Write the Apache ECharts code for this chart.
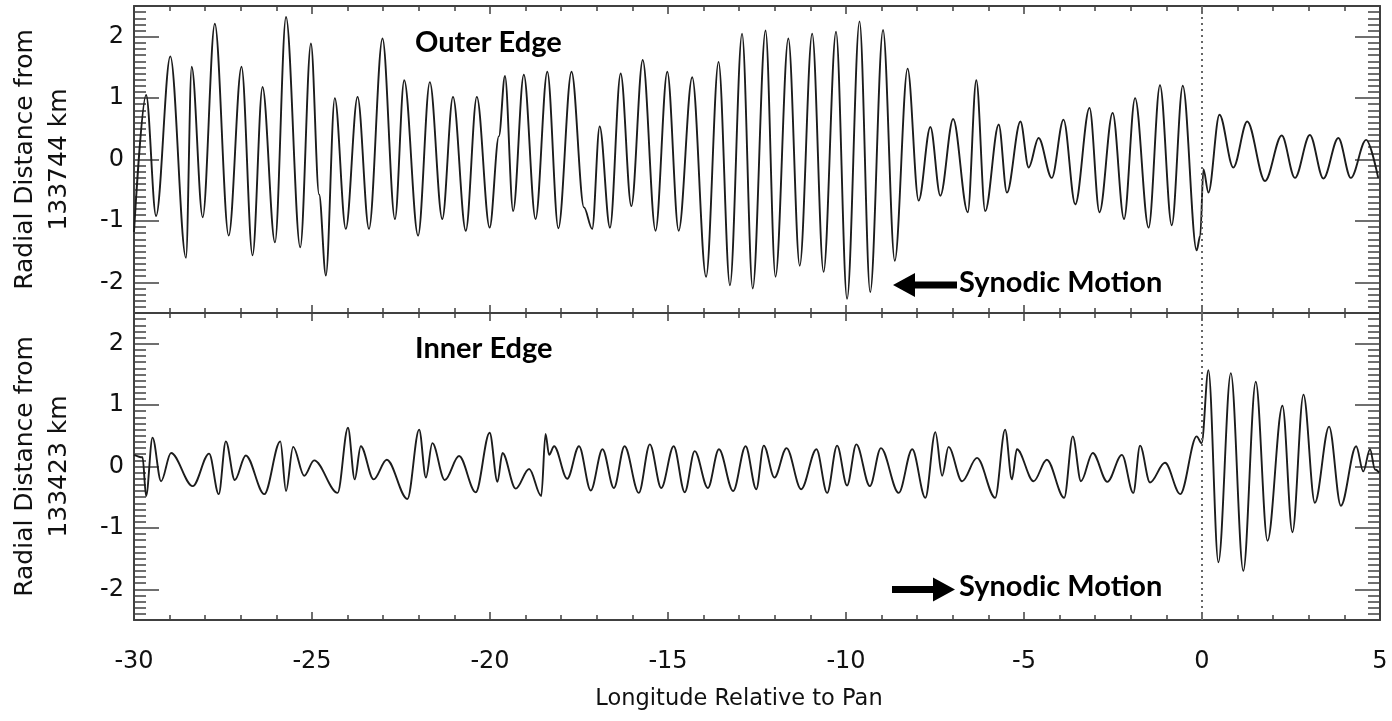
<!DOCTYPE html>
<html>
<head>
<meta charset="utf-8">
<script src="https://cdn.jsdelivr.net/npm/echarts@6/dist/echarts.min.js"></script>
<style>
  html, body { margin: 0; padding: 0; background: #ffffff; }
  #chart { width: 1392px; height: 721px; }
</style>
</head>
<body>
<div id="chart"></div>
<script>
// Outer edge radial excursions (km) vs longitude relative to Pan (deg): turning points of the trace
const outerLon = [-30.0, -29.66, -29.38, -28.98, -28.54, -28.38, -28.07, -27.73, -27.34, -26.98,
  -26.67, -26.39, -26.04, -25.73, -25.33, -25.03, -24.80, -24.61, -24.36, -24.05,
  -23.72, -23.40, -23.02, -22.67, -22.41, -22.02, -21.69, -21.34, -21.04, -20.68,
  -20.37, -20.01, -19.75, -19.58, -19.35, -19.05, -18.72, -18.39, -18.08, -17.71,
  -17.36, -17.13, -16.92, -16.63, -16.33, -16.03, -15.71, -15.35, -15.02, -14.70,
  -14.32, -13.93, -13.58, -13.26, -12.92, -12.62, -12.26, -11.98, -11.62, -11.30,
  -10.95, -10.63, -10.28, -9.97, -9.62, -9.32, -8.96, -8.63, -8.27, -7.96,
  -7.63, -7.35, -6.99, -6.58, -6.34, -6.09, -5.71, -5.48, -5.10, -4.87,
  -4.59, -4.22, -3.89, -3.56, -3.16, -2.88, -2.51, -2.19, -1.88, -1.50,
  -1.18, -0.85, -0.54, -0.15, -0.05, 0.04, 0.18, 0.49, 0.88, 1.27,
  1.77, 2.24, 2.61, 3.03, 3.41, 3.83, 4.18, 4.61, 4.95];
const outerRad = [-1.18, 1.05, -0.92, 1.68, -1.60, 1.51, -0.94, 2.21, -1.24, 1.51,
  -1.56, 1.18, -1.35, 2.32, -1.43, 1.89, -0.57, -1.89, 1.00, -1.13,
  1.02, -1.13, 1.97, -0.97, 1.29, -1.24, 1.26, -0.97, 1.02, -1.16,
  1.02, -1.11, 0.38, 1.36, -0.84, 1.38, -0.97, 1.43, -1.12, 1.43,
  -0.78, -1.13, 0.54, -1.11, 1.40, -0.76, 1.62, -1.16, 1.43, -1.16,
  1.34, -1.91, 1.59, -2.05, 2.05, -2.10, 2.10, -1.91, 1.97, -1.73,
  2.05, -1.83, 2.08, -2.27, 2.25, -2.16, 2.11, -1.65, 1.48, -0.67,
  0.53, -0.59, 0.66, -0.86, 1.29, -0.84, 0.57, -0.54, 0.62, -0.13,
  0.35, -0.30, 0.65, -0.73, 0.84, -0.86, 0.76, -0.97, 1.00, -1.11,
  1.21, -1.07, 1.20, -1.48, -1.24, -0.16, -0.54, 0.73, -0.13, 0.62,
  -0.35, 0.39, -0.30, 0.40, -0.31, 0.35, -0.30, 0.32, -0.30];

// Inner edge radial excursions (km) vs longitude relative to Pan (deg)
const innerLon = [-30.00, -29.76, -29.66, -29.48, -29.24, -28.96, -28.35, -27.89, -27.62, -27.42,
  -27.17, -26.86, -26.34, -25.89, -25.73, -25.53, -25.22, -24.94, -24.28, -23.99,
  -23.80, -23.63, -23.27, -22.90, -22.32, -21.99, -21.80, -21.62, -21.27, -20.87,
  -20.40, -20.01, -19.79, -19.65, -19.28, -18.90, -18.56, -18.44, -18.34, -18.20,
  -17.83, -17.50, -17.17, -16.84, -16.52, -16.22, -15.82, -15.51, -15.19, -14.84,
  -14.53, -14.25, -13.88, -13.57, -13.17, -12.82, -12.52, -12.31, -12.01, -11.67,
  -11.26, -10.83, -10.53, -10.25, -9.97, -9.71, -9.33, -9.02, -8.52, -8.14,
  -7.77, -7.49, -7.30, -7.12, -6.74, -6.32, -5.81, -5.53, -5.34, -5.20,
  -4.73, -4.36, -3.87, -3.63, -3.40, -3.07, -2.66, -2.25, -1.93, -1.74,
  -1.46, -1.04, -0.61, -0.15, -0.01, 0.18, 0.46, 0.81, 1.16, 1.51,
  1.84, 2.26, 2.54, 2.85, 3.17, 3.57, 3.90, 4.33, 4.53, 4.72,
  4.86, 4.98];
const innerRad = [0.19, 0.15, -0.48, 0.47, -0.24, 0.22, -0.32, 0.21, -0.45, 0.41,
  -0.22, 0.18, -0.45, 0.41, -0.40, 0.32, -0.15, 0.10, -0.43, 0.63,
  -0.21, 0.33, -0.21, 0.11, -0.53, 0.60, -0.18, 0.38, -0.22, 0.17,
  -0.42, 0.55, -0.25, 0.22, -0.36, -0.04, -0.48, 0.53, 0.19, 0.33,
  -0.20, 0.33, -0.39, 0.28, -0.35, 0.33, -0.43, 0.36, -0.35, 0.33,
  -0.42, 0.25, -0.35, 0.28, -0.40, 0.33, -0.37, 0.34, -0.18, 0.30,
  -0.37, 0.28, -0.43, 0.34, -0.31, 0.36, -0.32, 0.30, -0.43, 0.28,
  -0.51, 0.56, -0.15, 0.32, -0.24, 0.14, -0.51, 0.60, -0.21, 0.28,
  -0.24, 0.11, -0.51, 0.49, -0.24, 0.22, -0.25, 0.19, -0.43, 0.34,
  -0.26, 0.06, -0.45, 0.49, 0.38, 1.57, -1.56, 1.52, -1.70, 1.38,
  -1.21, 0.99, -1.07, 1.17, -0.59, 0.65, -0.64, 0.33, -0.08, 0.28,
  -0.05, -0.10];

const radTicks = [-2, -1, 0, 1, 2];
const panLon = 0;

const pairs = (xs, ys) => xs.map((x, i) => [x, ys[i]]);

const FRAME = '#404040';
const TEXT = '#111111';
const SANS = '"DejaVu Sans", "Liberation Sans", sans-serif';
const BOLD = 'bold 29px Lato, "Open Sans", sans-serif';

function lonAxis(g, pos, withLabels) {
  const ax = {
    type: 'value', gridIndex: g, position: pos, min: -30, max: 5, interval: 5,
    axisLine: { show: true, onZero: false, lineStyle: { color: FRAME, width: 2 } },
    axisTick: { show: true, inside: true, length: 8, lineStyle: { color: FRAME, width: 1.5 } },
    minorTick: { show: true, splitNumber: 5, length: 5, lineStyle: { color: FRAME, width: 1.5 } },
    splitLine: { show: false },
    axisLabel: { show: withLabels, margin: 30, fontSize: 24, color: TEXT, fontFamily: SANS }
  };
  if (withLabels) {
    ax.name = 'Longitude Relative to Pan';
    ax.nameLocation = 'middle';
    ax.nameGap = 68;
    ax.nameTextStyle = { fontSize: 22.5, color: TEXT, fontFamily: SANS, padding: [0, 36, 0, 0] };
  }
  return ax;
}

function radMinorAxis(g, pos) {
  return {
    type: 'value', gridIndex: g, position: pos, min: -2.5, max: 2.5, interval: 0.1,
    axisLine: { show: true, onZero: false, lineStyle: { color: FRAME, width: 2 } },
    axisTick: { show: true, inside: true, length: 12, lineStyle: { color: FRAME, width: 1.5 } },
    axisLabel: { show: false },
    splitLine: { show: false }
  };
}

function radMajorAxis(g, pos, name) {
  const ax = {
    type: 'value', gridIndex: g, position: pos, min: -2.5, max: 2.5, interval: 0.5,
    axisLine: { show: false, onZero: false },
    axisTick: { show: true, inside: true, length: 25, customValues: radTicks,
      lineStyle: { color: FRAME, width: 1.5 } },
    axisLabel: { show: pos === 'left', customValues: radTicks, margin: 10,
      fontSize: 24, color: TEXT, fontFamily: SANS },
    splitLine: { show: false }
  };
  if (name) {
    ax.name = name;
    ax.nameLocation = 'middle';
    ax.nameGap = 58;
    ax.nameRotate = 90;
    ax.nameTextStyle = { fontSize: 25, lineHeight: 34, color: TEXT, fontFamily: SANS, align: 'center' };
  }
  return ax;
}

const zeroMark = {
  silent: true, symbol: 'none', label: { show: false },
  lineStyle: { type: [2, 4], color: '#666666', width: 2 },
  data: [{ xAxis: panLon }]
};

const traceStyle = { color: '#1c1c1c', width: 1.9 };

const chart = echarts.init(document.getElementById('chart'), null, { renderer: 'canvas' });
chart.setOption({
  animation: false,
  backgroundColor: '#ffffff',
  grid: [
    { left: 133, right: 12, top: 6, height: 307 },
    { left: 133, right: 12, top: 313, height: 307 }
  ],
  xAxis: [
    lonAxis(0, 'bottom', false), lonAxis(0, 'top', false),
    lonAxis(1, 'bottom', true), lonAxis(1, 'top', false)
  ],
  yAxis: [
    radMinorAxis(0, 'left'), radMajorAxis(0, 'left', 'Radial Distance from\n133744 km'),
    radMinorAxis(0, 'right'), radMajorAxis(0, 'right'),
    radMinorAxis(1, 'left'), radMajorAxis(1, 'left', 'Radial Distance from\n133423 km'),
    radMinorAxis(1, 'right'), radMajorAxis(1, 'right')
  ],
  series: [
    {
      name: 'Outer Edge', type: 'line', xAxisIndex: 0, yAxisIndex: 0,
      data: pairs(outerLon, outerRad), showSymbol: false,
      smooth: 0.34, smoothMonotone: 'x', lineStyle: traceStyle, markLine: zeroMark
    },
    {
      name: 'Inner Edge', type: 'line', xAxisIndex: 2, yAxisIndex: 4,
      data: pairs(innerLon, innerRad), showSymbol: false,
      smooth: 0.34, smoothMonotone: 'x', lineStyle: traceStyle, markLine: zeroMark
    }
  ],
  graphic: [
    { type: 'text', x: 415, y: 43, style: { text: 'Outer Edge', font: BOLD, fill: '#000', align: 'left', verticalAlign: 'middle' } },
    { type: 'text', x: 415, y: 349, style: { text: 'Inner Edge', font: BOLD, fill: '#000', align: 'left', verticalAlign: 'middle' } },
    { type: 'text', x: 959, y: 283, style: { text: 'Synodic Motion', font: BOLD, fill: '#000', align: 'left', verticalAlign: 'middle' } },
    { type: 'text', x: 959, y: 587, style: { text: 'Synodic Motion', font: BOLD, fill: '#000', align: 'left', verticalAlign: 'middle' } },
    // arrow pointing left (outer edge)
    { type: 'polygon', shape: { points: [[893, 285], [915, 273], [915, 281.5], [957, 281.5], [957, 288.5], [915, 288.5], [915, 297]] }, style: { fill: '#000' } },
    // arrow pointing right (inner edge)
    { type: 'polygon', shape: { points: [[955, 589.5], [933, 577.5], [933, 586], [892, 586], [892, 593], [933, 593], [933, 601.5]] }, style: { fill: '#000' } }
  ]
});
</script>
</body>
</html>
